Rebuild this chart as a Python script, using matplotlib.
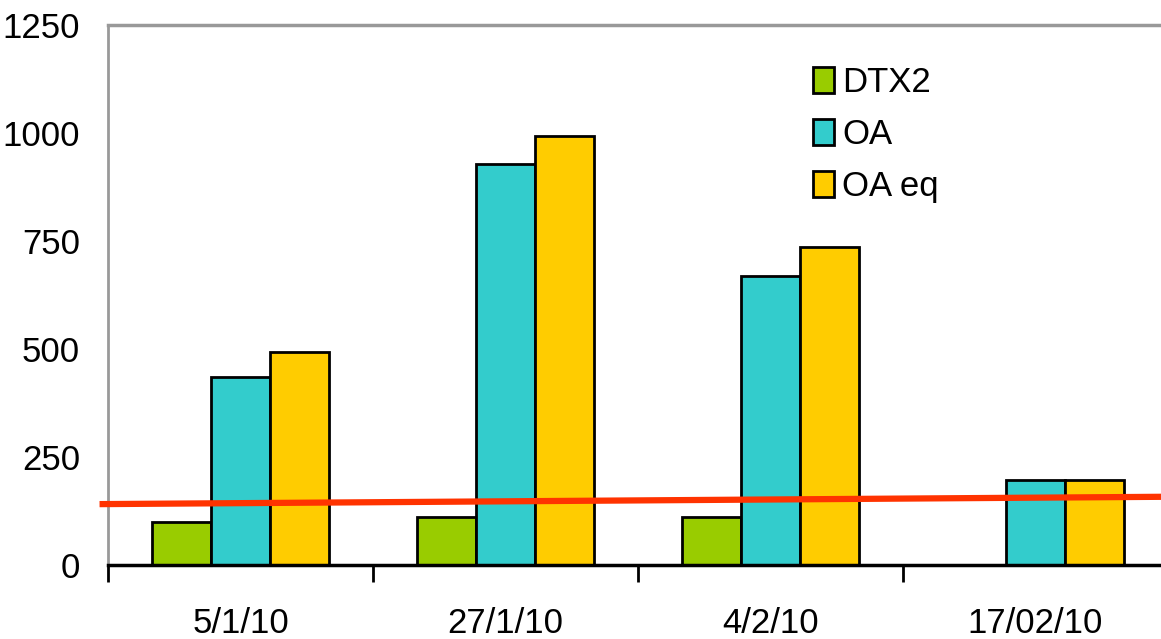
import matplotlib.pyplot as plt
import numpy as np

plt.rcParams['font.family'] = ['Liberation Sans', 'DejaVu Sans']

# data
dates = ['5/1/10', '27/1/10', '4/2/10', '17/02/10']
dtx2 = [100, 112, 112, 0]
oa = [435, 928, 668, 196]
oa_eq = [492, 992, 737, 196]
series_names = ['DTX2', 'OA', 'OA eq']
colors = ['#99CC00', '#33CCCC', '#FFCC00']

# red reference line (end points)
line_x = [-0.52, 3.5]
line_y = [141, 158]

fig = plt.figure(figsize=(11.61, 6.39), dpi=100)
ax = fig.add_axes([0.093, 0.1158, 0.913, 0.845])

x = np.arange(len(dates))
w = 0.223
for i, (vals, name, c) in enumerate(zip([dtx2, oa, oa_eq], series_names, colors)):
    ax.bar(x + (i - 1) * w, vals, w, color=c, edgecolor='black', linewidth=2,
           label=name, zorder=2)

ax.plot(line_x, line_y, color='#FF3300', linewidth=4.5, clip_on=False, zorder=3)

ax.set_xlim(-0.5, 3.5)
ax.set_ylim(0, 1250)
ax.set_yticks([0, 250, 500, 750, 1000, 1250])
ax.tick_params(axis='y', length=0, pad=20, labelsize=25)

ax.set_xticks(x)
ax.set_xticklabels(dates)
ax.set_xticks(np.arange(-0.5, 3.6, 1), minor=True)
ax.tick_params(axis='x', which='major', length=0, pad=30, labelsize=25)
ax.tick_params(axis='x', which='minor', length=12, width=2, color='black',
               direction='out')

ax.spines['left'].set_color('#999999')
ax.spines['left'].set_linewidth(2)
ax.spines['top'].set_color('#999999')
ax.spines['top'].set_linewidth(2.5)
ax.spines['bottom'].set_color('black')
ax.spines['bottom'].set_linewidth(2.5)
ax.spines['right'].set_visible(False)

leg = ax.legend(loc='upper left', bbox_to_anchor=(0.652, 0.95), frameon=False,
                fontsize=25, handlelength=0.6, handleheight=0.8,
                handletextpad=0.25, labelspacing=0.55, borderaxespad=0)

fig.savefig('out.png', dpi=100)
